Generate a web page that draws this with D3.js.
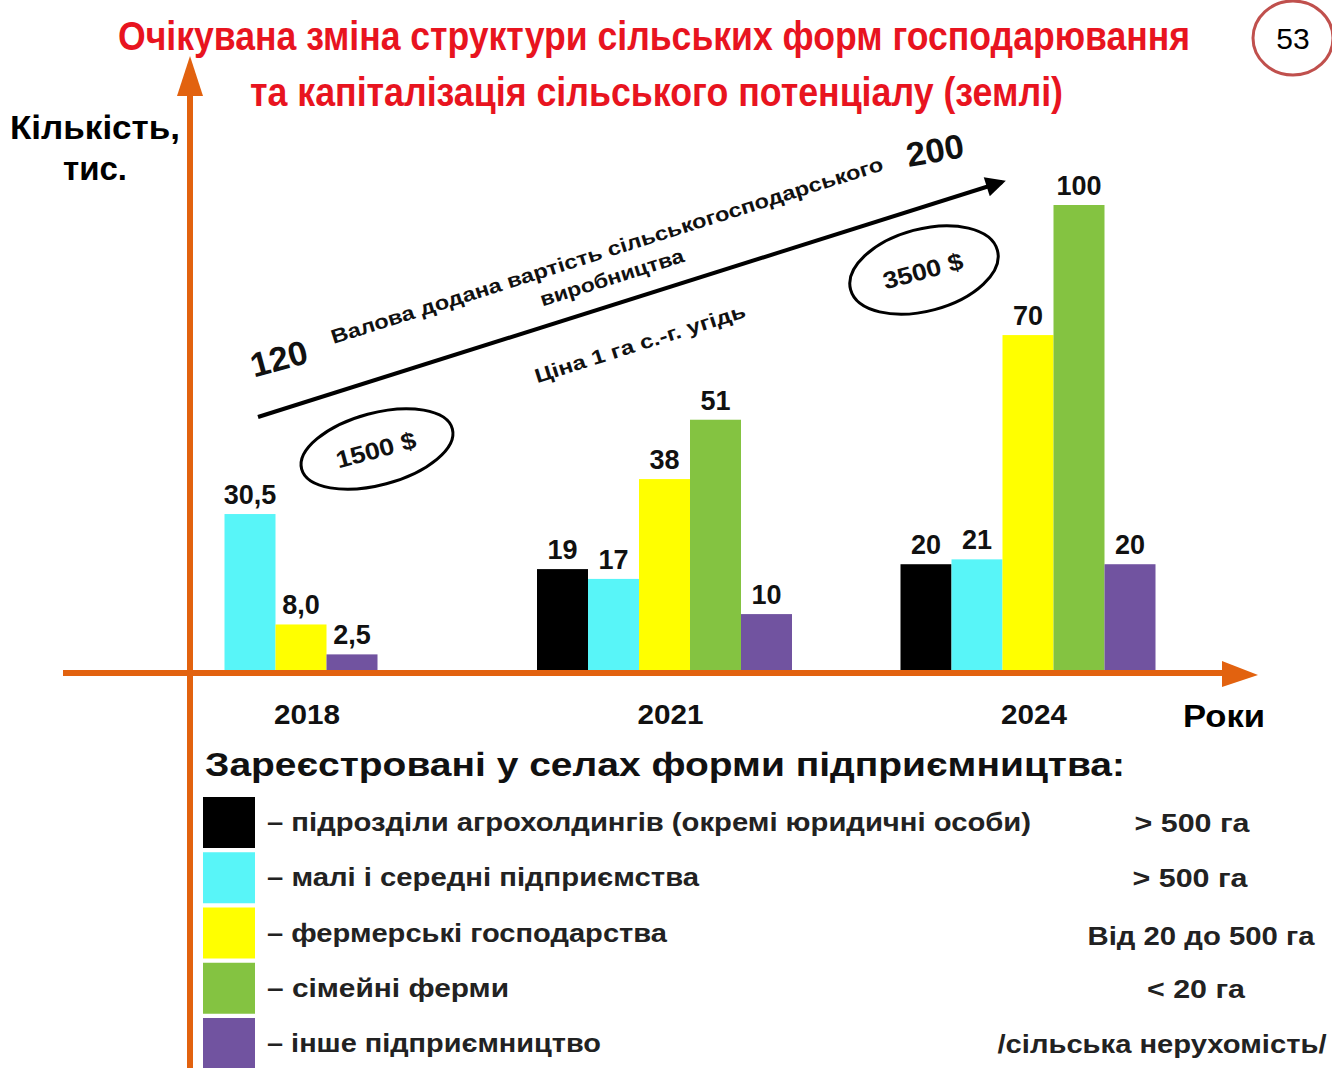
<!DOCTYPE html>
<html>
<head>
<meta charset="utf-8">
<script src="https://cdn.jsdelivr.net/npm/d3@7"></script>
<style>
  body { margin: 0; background: #fff; }
  svg { display: block; }
  .bold { font-family: "Liberation Sans", Arial, sans-serif; font-weight: bold; }
  .narrow { font-family: "Liberation Sans Narrow", "Liberation Sans", Arial, sans-serif; font-weight: bold; }
</style>
</head>
<body>
<div id="chart"></div>
<script>
// data
const years = [2018, 2021, 2024];
const yearDecimals = [1, 0, 0];
const seriesKeys = ["holding", "small", "farmer", "family", "other"];
const seriesNames = [
  "– підрозділи агрохолдингів (окремі юридичні особи)",
  "– малі і середні підприємства",
  "– фермерські господарства",
  "– сімейні ферми",
  "– інше підприємництво"
];
const seriesSizes = ["> 500 га", "> 500 га", "Від 20 до 500 га", "< 20 га", "/сільська нерухомість/"];
const seriesColors = ["#000000", "#58f5f8", "#ffff00", "#84c341", "#7153a0"];
const holding = [null, 19, 20];
const small = [30.5, 17, 21];
const farmer = [8.0, 38, 70];
const family = [null, 51, 100];
const other = [2.5, 10, 20];
const seriesValues = [holding, small, farmer, family, other];

const valueAdded = [120, 200];
const landPrice = ["1500 $", "3500 $"];

const width = 1332, height = 1068;
const orange = "#e2620f";

const svg = d3.select("#chart").append("svg")
  .attr("width", width)
  .attr("height", height);

// title
svg.append("text").attr("class", "narrow")
  .attr("x", 118).attr("y", 50)
  .attr("font-size", 40).attr("fill", "#e8141f")
  .attr("textLength", 1072).attr("lengthAdjust", "spacingAndGlyphs")
  .text("Очікувана зміна структури сільських форм господарювання");
svg.append("text").attr("class", "narrow")
  .attr("x", 250).attr("y", 106)
  .attr("font-size", 40).attr("fill", "#e8141f")
  .attr("textLength", 813).attr("lengthAdjust", "spacingAndGlyphs")
  .text("та капіталізація сільського потенціалу (землі)");

// page number
svg.append("ellipse")
  .attr("cx", 1293).attr("cy", 38).attr("rx", 40).attr("ry", 37)
  .attr("fill", "none").attr("stroke", "#c0504d").attr("stroke-width", 3);
svg.append("text")
  .attr("x", 1293).attr("y", 49)
  .attr("text-anchor", "middle")
  .attr("font-family", "Liberation Sans, Arial, sans-serif")
  .attr("font-size", 30)
  .text("53");

// axis titles
svg.append("text").attr("class", "narrow")
  .attr("x", 95).attr("y", 139).attr("text-anchor", "middle")
  .attr("font-size", 33)
  .attr("textLength", 170).attr("lengthAdjust", "spacingAndGlyphs")
  .text("Кількість,");
svg.append("text").attr("class", "narrow")
  .attr("x", 95).attr("y", 180).attr("text-anchor", "middle")
  .attr("font-size", 33)
  .text("тис.");
svg.append("text").attr("class", "bold")
  .attr("x", 1183).attr("y", 727)
  .attr("font-size", 32)
  .attr("textLength", 82).attr("lengthAdjust", "spacingAndGlyphs")
  .text("Роки");

// scales
const x = d3.scaleLinear().domain([2018, 2024]).range([301, 1028]);
const y = d3.scalePow().exponent(0.92).domain([0, 100]).range([670, 205]);
const color = d3.scaleOrdinal().domain(seriesKeys).range(seriesColors);
const barWidth = 51;

// bars, one group per year, only series present that year
const bars = svg.append("g");
years.forEach((yr, i) => {
  const rows = seriesKeys
    .map((k, s) => ({ key: k, value: seriesValues[s][i] }))
    .filter(d => d.value != null);
  const cx = x(yr);
  const inner = d3.scaleBand()
    .domain(rows.map(d => d.key))
    .range([cx - rows.length * barWidth / 2, cx + rows.length * barWidth / 2]);
  const fmt = d3.format("." + yearDecimals[i] + "f");

  const g = bars.append("g");
  g.selectAll("rect").data(rows).enter().append("rect")
    .attr("x", d => inner(d.key))
    .attr("y", d => y(d.value))
    .attr("width", inner.bandwidth())
    .attr("height", d => y(0) - y(d.value))
    .attr("fill", d => color(d.key));
  g.selectAll("text").data(rows).enter().append("text")
    .attr("class", "narrow")
    .attr("x", d => inner(d.key) + inner.bandwidth() / 2)
    .attr("y", d => y(d.value) - 10)
    .attr("text-anchor", "middle")
    .attr("font-size", 27)
    .attr("fill", "#111")
    .text(d => fmt(d.value).replace(".", ","));
});

// year labels
svg.append("g").selectAll("text").data(years).enter().append("text")
  .attr("class", "bold")
  .attr("x", d => x(d) + 6).attr("y", 724)
  .attr("text-anchor", "middle")
  .attr("font-size", 28)
  .attr("fill", "#111")
  .attr("textLength", 66).attr("lengthAdjust", "spacingAndGlyphs")
  .text(d => d);

// orange axes with arrow heads
svg.append("line")
  .attr("x1", 190).attr("y1", height).attr("x2", 190).attr("y2", 90)
  .attr("stroke", orange).attr("stroke-width", 6);
svg.append("path")
  .attr("d", "M190,56 L177,96 L203,96 Z")
  .attr("fill", orange);
svg.append("line")
  .attr("x1", 63).attr("y1", 673).attr("x2", 1228).attr("y2", 673)
  .attr("stroke", orange).attr("stroke-width", 6);
svg.append("path")
  .attr("d", "M1258,675 L1222,661 L1222,687 Z")
  .attr("fill", orange);

// trend arrow and its notes
const a0 = [258, 417], a1 = [1008, 180];
const ang = Math.atan2(a1[1] - a0[1], a1[0] - a0[0]) * 180 / Math.PI;
svg.append("defs").append("marker")
  .attr("id", "head")
  .attr("viewBox", "0 0 10 10")
  .attr("refX", 8).attr("refY", 5)
  .attr("markerWidth", 6).attr("markerHeight", 5)
  .attr("orient", "auto")
  .append("path").attr("d", "M0,0 L10,5 L0,10 Z").attr("fill", "#000");
svg.append("line")
  .attr("x1", a0[0]).attr("y1", a0[1]).attr("x2", a1[0] - 6).attr("y2", a1[1] + 2)
  .attr("stroke", "#000").attr("stroke-width", 4)
  .attr("marker-end", "url(#head)");

function rotText(cx, cy, deg, size, txt, len) {
  const t = svg.append("text").attr("class", "bold")
    .attr("transform", `translate(${cx},${cy}) rotate(${deg})`)
    .attr("text-anchor", "middle")
    .attr("font-size", size)
    .attr("fill", "#111")
    .text(txt);
  if (len) t.attr("textLength", len).attr("lengthAdjust", "spacingAndGlyphs");
  return t;
}
rotText(609, 257, ang, 20, "Валова додана вартість сільськогосподарського", 578);
rotText(614, 284, ang, 20, "виробництва", 150);
rotText(642, 350, ang, 20, "Ціна 1 га с.-г. угідь", 220);
rotText(282, 370, -15, 34, valueAdded[0], 58);
rotText(937, 162, -10, 34, valueAdded[1], 58);

// price ellipses
[[377, 449, 78, 36], [924, 270, 76, 41]].forEach((e, i) => {
  svg.append("ellipse")
    .attr("transform", `translate(${e[0]},${e[1]}) rotate(-15)`)
    .attr("rx", e[2]).attr("ry", e[3])
    .attr("fill", "none").attr("stroke", "#000").attr("stroke-width", 3);
  rotText(e[0] + 1, e[1] + 9, -15, 24, landPrice[i], 82);
});

// legend
svg.append("text").attr("class", "bold")
  .attr("x", 205).attr("y", 776)
  .attr("font-size", 34)
  .attr("fill", "#111")
  .attr("textLength", 920).attr("lengthAdjust", "spacingAndGlyphs")
  .text("Зареєстровані у селах форми підприємництва:");

const legendY = d3.scalePoint().domain(seriesKeys).range([822, 1043]);
const legendLen = [764, 432, 400, 242, 334];
const sizeX = [1192, 1190, 1201, 1196, 1162];
const sizeLen = [115, 115, 227, 98, 329];
const legend = svg.append("g").selectAll("g").data(seriesKeys).enter().append("g");
legend.append("rect")
  .attr("x", 203).attr("y", d => legendY(d) - 25)
  .attr("width", 52).attr("height", 51)
  .attr("fill", d => color(d));
legend.append("text").attr("class", "bold")
  .attr("x", 267).attr("y", d => legendY(d) + 9)
  .attr("font-size", 26).attr("fill", "#222")
  .attr("textLength", (d, i) => legendLen[i]).attr("lengthAdjust", "spacingAndGlyphs")
  .text((d, i) => seriesNames[i]);
legend.append("text").attr("class", "bold")
  .attr("x", (d, i) => sizeX[i]).attr("y", (d, i) => legendY(d) + 10 + (i === 2 ? 2 : 0))
  .attr("text-anchor", "middle")
  .attr("font-size", 26).attr("fill", "#222")
  .attr("textLength", (d, i) => sizeLen[i]).attr("lengthAdjust", "spacingAndGlyphs")
  .text((d, i) => seriesSizes[i]);
</script>
</body>
</html>
